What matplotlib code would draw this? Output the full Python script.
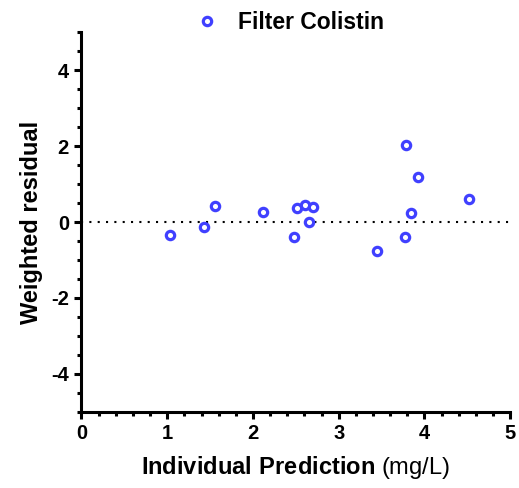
import matplotlib
matplotlib.use("Agg")
import matplotlib.pyplot as plt
from matplotlib.ticker import MultipleLocator

plt.rcParams['font.family'] = ['Liberation Sans', 'DejaVu Sans']
plt.rcParams['axes.unicode_minus'] = False
plt.rcParams['mathtext.fontset'] = 'custom'
plt.rcParams['mathtext.rm'] = 'Liberation Sans'
plt.rcParams['mathtext.bf'] = 'Liberation Sans:bold'

# individual prediction (mg/L) vs weighted residual
pred = [1.03, 1.43, 1.56, 2.12, 2.51, 2.48, 2.61, 2.70, 2.65, 3.45, 3.77, 3.79, 3.92, 3.84, 4.52]
wres = [-0.34, -0.14, 0.43, 0.27, 0.37, -0.39, 0.46, 0.40, 0.01, -0.77, -0.39, 2.02, 1.18, 0.25, 0.61]
series_name = "Filter Colistin"

fig = plt.figure(figsize=(5.19, 4.88), dpi=100)
ax = fig.add_axes([0.157, 0.156, 0.826, 0.778])

ax.axhline(0, color='black', lw=1.5, linestyle=(0, (1, 3)), zorder=1)
ax.plot(pred, wres, linestyle='none', marker='o', ms=6.0, mfc='white',
        mec='#4040ff', mew=2.3, label=series_name, zorder=3)

ax.set_xlim(0, 5)
ax.set_ylim(-5, 5)
ax.xaxis.set_major_locator(MultipleLocator(1))
ax.xaxis.set_minor_locator(MultipleLocator(0.2))
ax.yaxis.set_minor_locator(MultipleLocator(0.5))
ax.set_yticks([-4, -2, 0, 2, 4])

for s in ['top', 'right']:
    ax.spines[s].set_visible(False)
for s in ['left', 'bottom']:
    ax.spines[s].set_linewidth(2.2)

ax.tick_params(which='major', length=5, width=2.2, labelsize=14.5, pad=4)
ax.tick_params(which='minor', length=3, width=2.2)
for lab in ax.get_xticklabels() + ax.get_yticklabels():
    lab.set_fontweight('bold')

ax.set_xlabel(r"$\mathbf{Individual\ Prediction}$ (mg/L)", fontsize=17, labelpad=8)
ax.set_ylabel("Weighted residual", fontsize=17, fontweight='bold', labelpad=6)

leg = ax.legend(loc='upper center', bbox_to_anchor=(0.484, 1.11), frameon=False,
                fontsize=16.5, handletextpad=0.75, handlelength=1.2)
for t in leg.get_texts():
    t.set_fontweight('bold')

fig.savefig("out.png", dpi=100)
